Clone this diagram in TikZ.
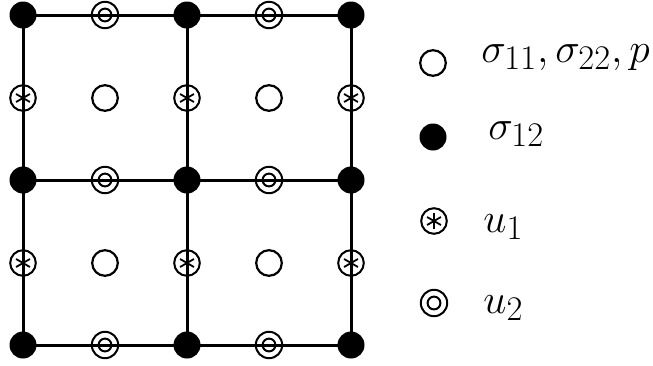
\documentclass[tikz,border=0pt]{standalone}
\usepackage{amsmath}
\begin{document}
\begin{tikzpicture}[x=0.5pt,y=-0.5pt,
  dot/.style={circle, fill=black, draw=none, minimum size=13.5pt, inner sep=0pt},
  ocirc/.style={circle, draw=black, line width=1.1pt, minimum size=12.8pt, inner sep=0pt},
  scirc/.style={circle, draw=black, line width=1pt, minimum size=12.8pt, inner sep=0pt,
    path picture={\foreach \a in {30,90,150,210,270,330}{\draw[line width=0.9pt] (path picture bounding box.center) -- ++(\a:4pt);}}},
  dcirc/.style={circle, draw=black, line width=1pt, minimum size=13.2pt, inner sep=0pt,
    path picture={\draw[line width=1pt] (path picture bounding box.center) circle (3.2pt);}},
  grid line/.style={line width=1.5pt, black},
  lbl/.style={anchor=base west, inner sep=0pt, font=\fontsize{22.7}{27}\selectfont}]
\useasboundingbox (0,0) rectangle (653,365);
% corner dots
\foreach \i/\x in {0/23,1/187,2/351}{
  \foreach \j/\y in {0/15,1/180,2/345}{
    \node[dot] (c\i\j) at (\x,\y) {};
  }
}
% grid lines
\foreach \j in {0,1,2}{\draw[grid line] (c0\j.center) -- (c2\j.center);}
\foreach \i in {0,1,2}{\draw[grid line] (c\i0.center) -- (c\i2.center);}
% u2 on horizontal edges
\foreach \i/\x in {0/105,1/269}{
  \foreach \j/\y in {0/15,1/180,2/345}{
    \node[dcirc] (h\i\j) at (\x,\y) {};
  }
}
% u1 on vertical edges
\foreach \i/\x in {0/23,1/187,2/351}{
  \foreach \j/\y in {0/98,1/263}{
    \node[scirc] (v\i\j) at (\x,\y) {};
  }
}
% cell centres
\foreach \i/\x in {0/105,1/269}{
  \foreach \j/\y in {0/98,1/263}{
    \node[ocirc] (m\i\j) at (\x,\y) {};
  }
}
% legend
\node[ocirc] (l1) at (433,63) {};
\node[dot] (l2) at (433,137) {};
\node[scirc] (l3) at (434,221) {};
\node[dcirc] (l4) at (434,303) {};
\node[lbl] (t1) at (481,62) {$\sigma_{11},\sigma_{22},p$};
\node[lbl] (t2) at (488,139) {$\sigma_{12}$};
\node[lbl] (t3) at (483,232) {$u_1$};
\node[lbl] (t4) at (483,313) {$u_2$};
\end{tikzpicture}
\end{document}
